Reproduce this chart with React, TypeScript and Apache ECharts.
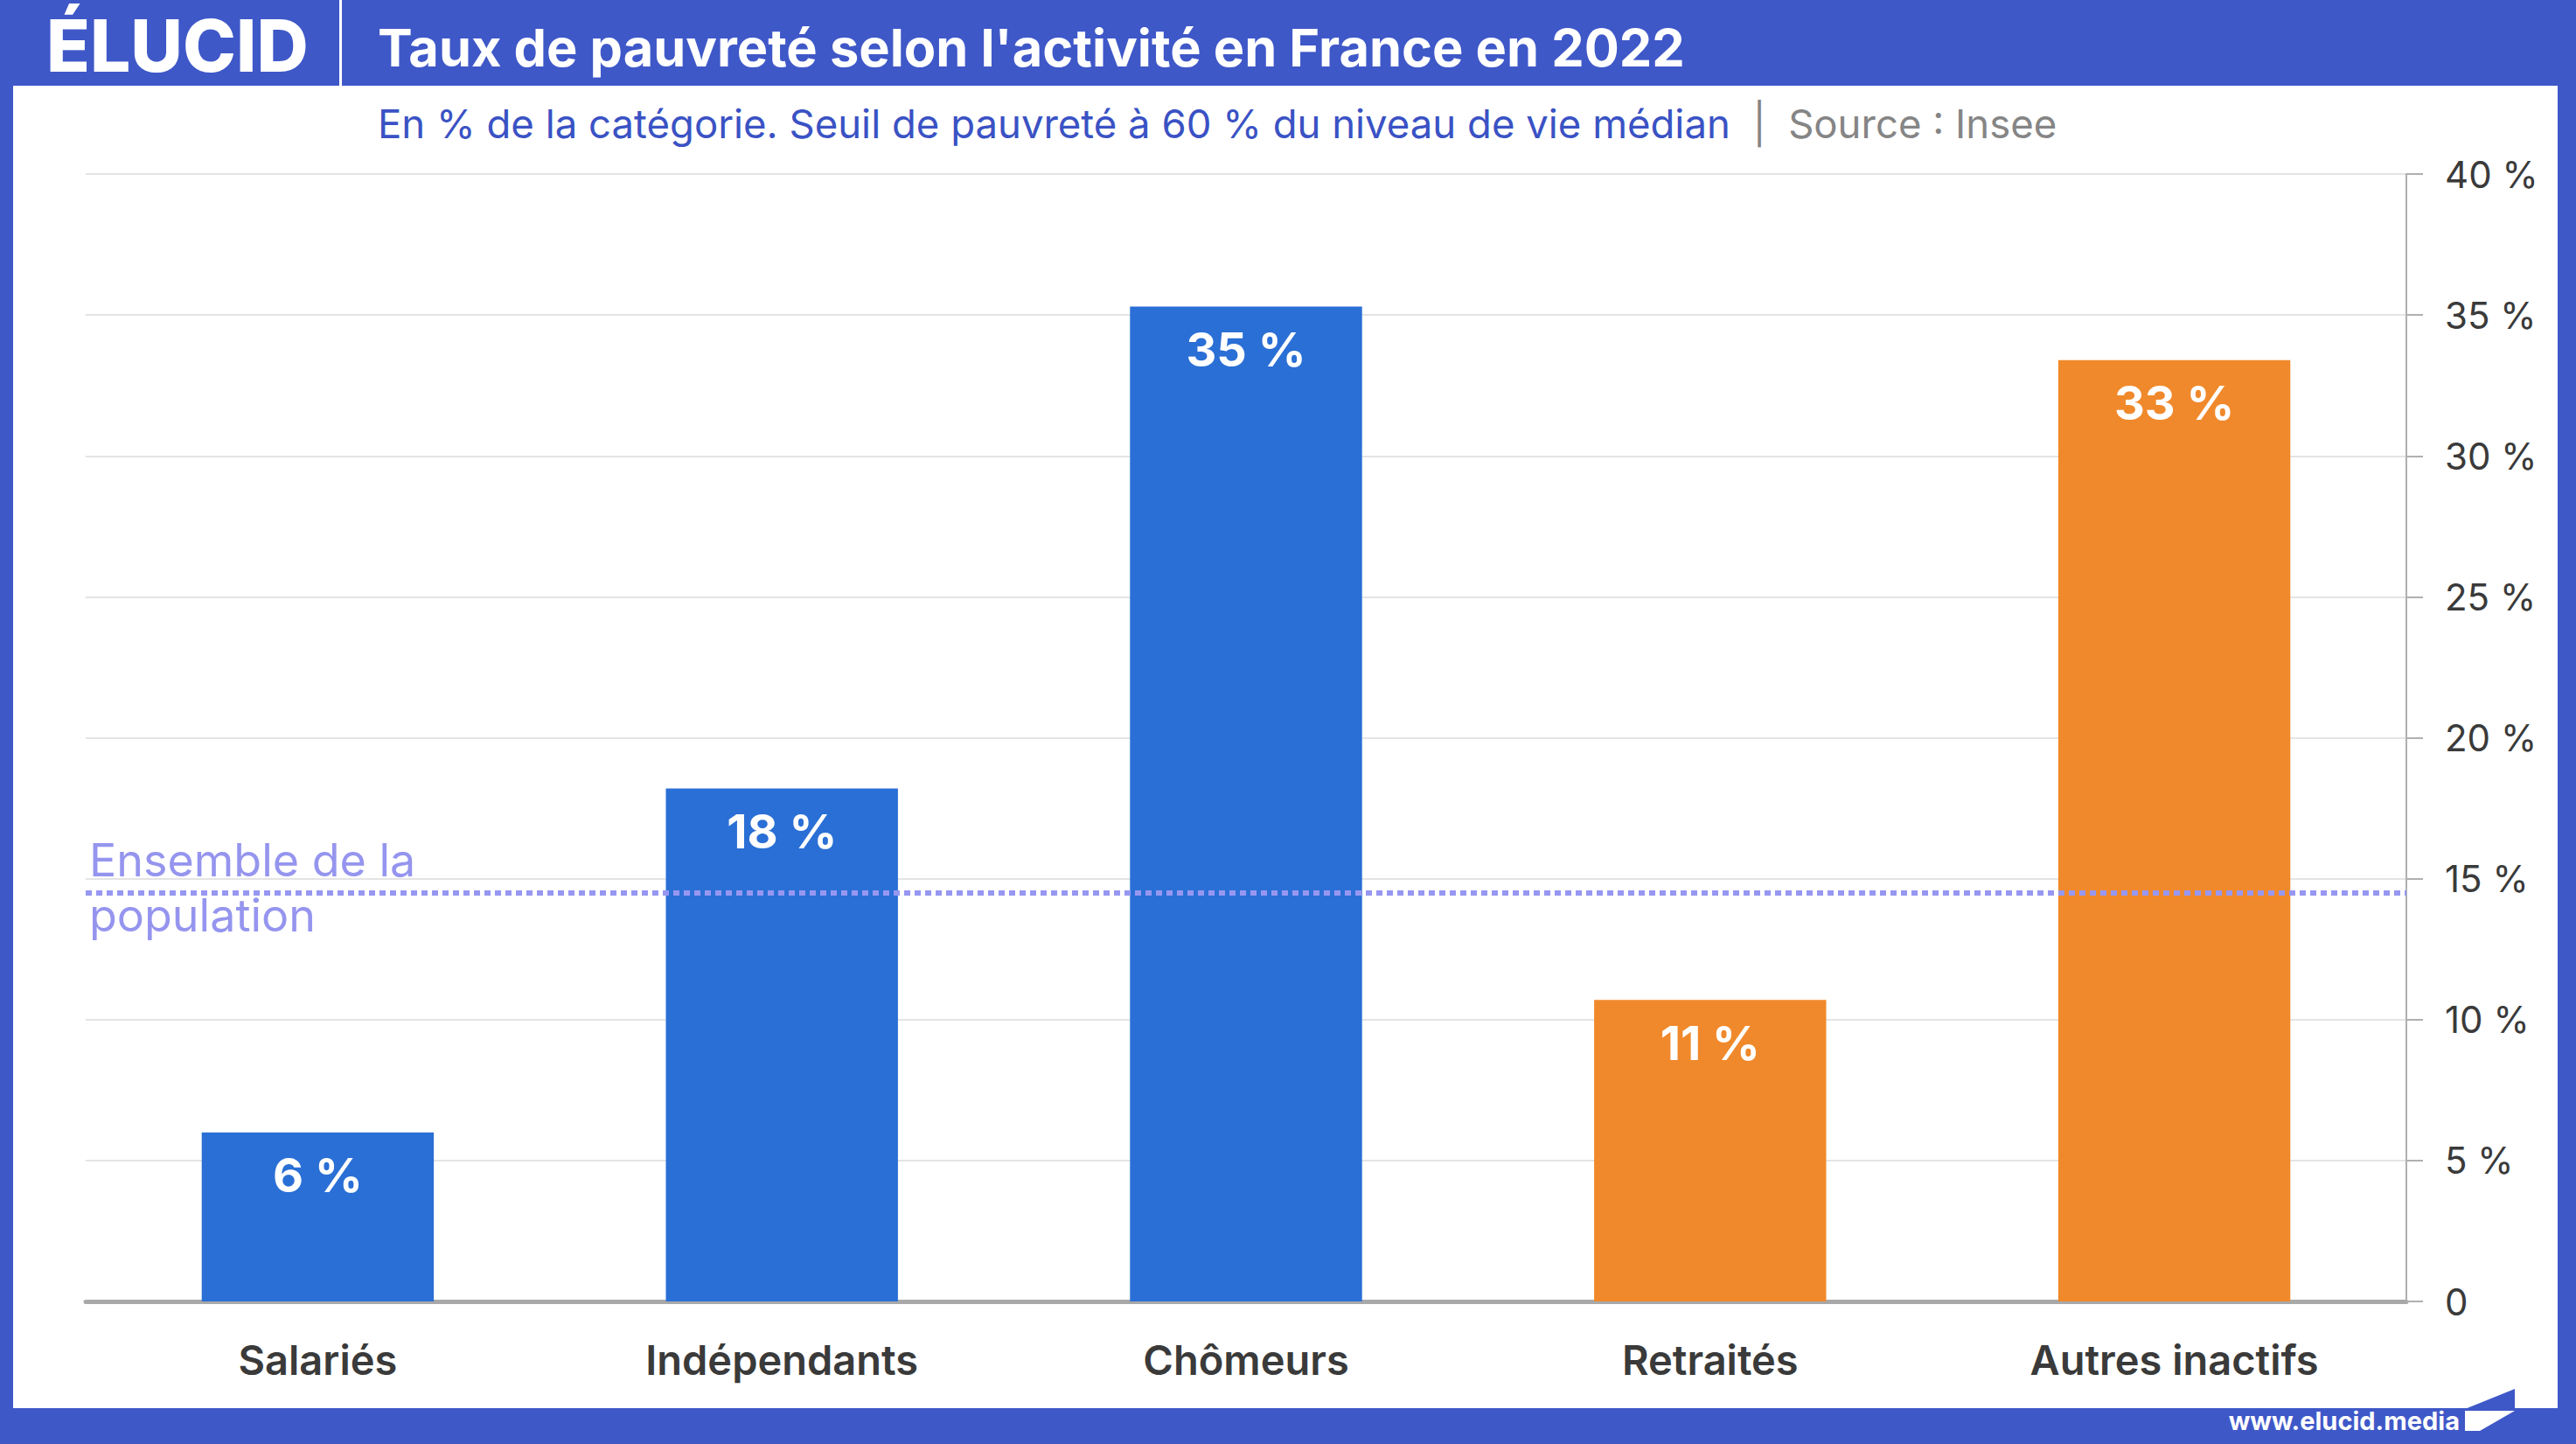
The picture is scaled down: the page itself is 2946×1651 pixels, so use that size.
import React, { useEffect, useRef } from "react";
import * as echarts from "echarts";

const categories = ["Salariés", "Indépendants", "Chômeurs", "Retraités", "Autres inactifs"];
const rates = [6.0, 18.2, 35.3, 10.7, 33.4];
const groups = ["actif", "actif", "actif", "inactif", "inactif"];
const ensembleRate = 14.5;
const ensembleLabel = ["Ensemble de la", "population"];
const yMin = 0;
const yMax = 40;
const yStep = 5;

const titleText = "Taux de pauvreté selon l'activité en France en 2022";
const subtitleText = "En % de la catégorie. Seuil de pauvreté à 60 % du niveau de vie médian";
const sourceText = "Source : Insee";

const W = 2946;
const H = 1651;
const FRAME = "#3f58c8";
const FONT = "Inter, 'Open Sans', sans-serif";

export default function App() {
  const ref = useRef<HTMLDivElement>(null);
  useEffect(() => {
    if (!ref.current) return;
    const chart = echarts.init(ref.current, null, { renderer: "svg" });
    const groupColors: Record<string, string> = { actif: "#2a6fd5", inactif: "#f0892b" };
    const option: any = {
      animation: false,
      backgroundColor: "#ffffff",
      textStyle: { fontFamily: FONT },
      grid: { left: 98, right: 194, top: 199, bottom: 163 },
      xAxis: {
        type: "category",
        data: categories,
        axisLine: { show: true, lineStyle: { color: "#a8a8a8", width: 5 } },
        axisTick: { show: false },
        axisLabel: { color: "#3a3a3a", fontSize: 47, fontWeight: 600, margin: 43, fontFamily: FONT },
      },
      yAxis: {
        type: "value",
        position: "right",
        min: yMin,
        max: yMax,
        interval: yStep,
        axisLine: { show: true, lineStyle: { color: "#b0b0b0", width: 2 } },
        axisTick: { show: true, length: 19, lineStyle: { color: "#b0b0b0", width: 2 } },
        splitLine: { show: true, lineStyle: { color: "#e4e4e4", width: 2 } },
        axisLabel: {
          color: "#3a3a3a",
          fontSize: 42,
          margin: 44,
          fontFamily: FONT,
          formatter: (v: number) => (v === 0 ? "0" : v + " %"),
        },
      },
      series: [
        {
          type: "bar",
          data: rates.map((v, i) => ({ value: v, itemStyle: { color: groupColors[groups[i]] } })),
          barWidth: "50%",
          label: {
            show: true,
            position: "insideTop",
            distance: 22,
            color: "#ffffff",
            fontSize: 54,
            fontWeight: 700,
            fontFamily: FONT,
            formatter: (p: any) => Math.round(p.value) + " %",
          },
          markLine: {
            silent: true,
            symbol: ["none", "none"],
            lineStyle: { type: [7, 5], color: "#9797f2", width: 6 },
            label: { color: "#9595ef", fontSize: 52, fontFamily: FONT },
            data: [
              { yAxis: ensembleRate, label: { formatter: ensembleLabel[0], position: "insideStartTop", distance: [4, 11] } },
              { yAxis: ensembleRate, label: { formatter: ensembleLabel[1], position: "insideStartBottom", distance: [4, 0] } },
            ],
          },
        },
      ],
      graphic: [
        { type: "rect", z: 100, shape: { x: 0, y: 0, width: W, height: 98 }, style: { fill: FRAME } },
        { type: "rect", z: 100, shape: { x: 0, y: 0, width: 15, height: H }, style: { fill: FRAME } },
        { type: "rect", z: 100, shape: { x: 2925, y: 0, width: 21, height: H }, style: { fill: FRAME } },
        { type: "rect", z: 100, shape: { x: 0, y: 1610, width: W, height: 41 }, style: { fill: FRAME } },
        { type: "rect", z: 101, shape: { x: 388, y: 0, width: 3, height: 98 }, style: { fill: "#ffffff" } },
        {
          type: "text", z: 101, x: 53, y: 52,
          style: { text: "ÉLUCID", fill: "#ffffff", font: `800 82px ${FONT}`, verticalAlign: "middle" },
        },
        {
          type: "text", z: 101, x: 432, y: 54,
          style: { text: titleText, fill: "#ffffff", font: `700 59.5px ${FONT}`, verticalAlign: "middle" },
        },
        {
          type: "text", z: 101, x: 432, y: 141,
          style: {
            text: `{b|${subtitleText}}{g|  |  ${sourceText}}`,
            verticalAlign: "middle",
            rich: {
              b: { fill: "#3a52c4", fontSize: 45.5, fontFamily: FONT, fontWeight: 400 },
              g: { fill: "#858585", fontSize: 45.5, fontFamily: FONT, fontWeight: 400 },
            },
          },
        },
        {
          type: "text", z: 101, x: 2813, y: 1624,
          style: { text: "www.elucid.media", fill: "#ffffff", font: `700 29px ${FONT}`, align: "right", verticalAlign: "middle" },
        },
        { type: "polygon", z: 101, shape: { points: [[2819, 1611], [2876, 1588], [2876, 1611]] }, style: { fill: FRAME } },
        { type: "polygon", z: 101, shape: { points: [[2819, 1613], [2876, 1613], [2836, 1636], [2819, 1636]] }, style: { fill: "#ffffff" } },
      ],
    };
    chart.setOption(option);
    return () => chart.dispose();
  }, []);
  return <div ref={ref} style={{ position: "absolute", left: 0, top: 0, width: W, height: H }} />;
}
